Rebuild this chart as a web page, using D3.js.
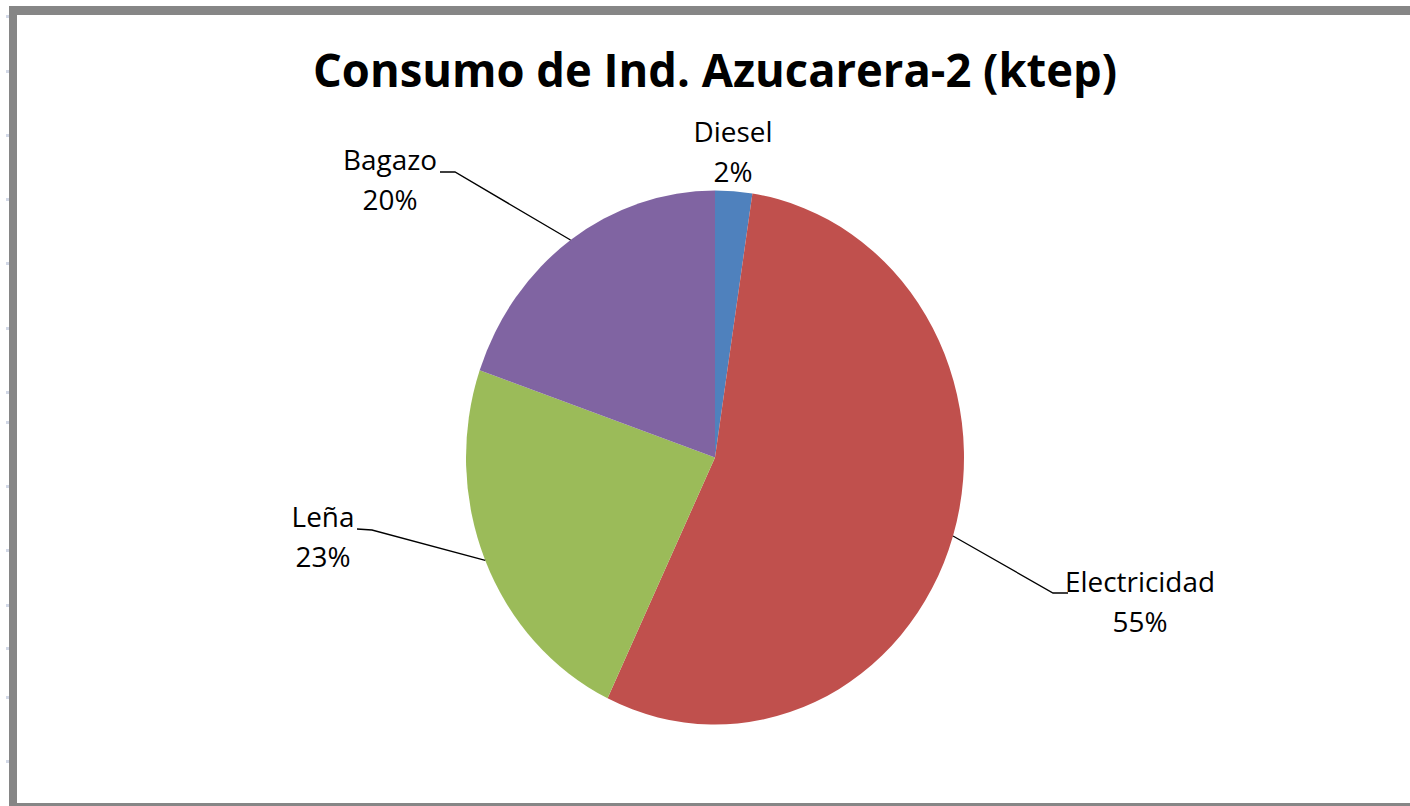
<!DOCTYPE html>
<html>
<head>
<meta charset="utf-8">
<script src="https://cdn.jsdelivr.net/npm/d3@7"></script>
<style>
  html, body { margin: 0; padding: 0; background: #fff; }
  svg { display: block; }
</style>
</head>
<body>
<script>
// ---- data ----
const title = "Consumo de Ind. Azucarera-2 (ktep)";
const categories = ["Diesel", "Electricidad", "Leña", "Bagazo"];
const values = [2.4, 54.7, 23.2, 19.7];
const colors = ["#4F81BD", "#C0504D", "#9BBB59", "#8064A2"];
const rowMarks = [16, 71, 135, 199, 263, 328, 392, 422, 486, 550, 605, 648, 697, 761];

// ---- layout (label placement) ----
const W = 1410, H = 806;
const cx = 715, cy = 457.5, rx = 249, ry = 267;
const labelLayout = {
  "Diesel":       { x: 733,  y: 142, leader: null },
  "Electricidad": { x: 1140, y: 592, leader: [[1053, 593], [1068, 593]] },
  "Leña":         { x: 323,  y: 527, leader: [[372, 530], [357, 529]] },
  "Bagazo":       { x: 390,  y: 170, leader: [[455, 172], [440, 172]] }
};

const svg = d3.select("body").append("svg").attr("width", W).attr("height", H);
svg.append("rect").attr("width", W).attr("height", H).attr("fill", "#fff");

// spreadsheet row marks at left
svg.append("g").selectAll("rect").data(rowMarks).join("rect")
  .attr("x", 6).attr("y", d => d - 1).attr("width", 3).attr("height", 3)
  .attr("fill", "#d2d8e6");

// chart frame
const frame = svg.append("g").attr("fill", "#868686");
frame.append("rect").attr("x", 9).attr("y", 6).attr("width", 8).attr("height", H - 6);
frame.append("rect").attr("x", 9).attr("y", 6).attr("width", W - 9).attr("height", 9);
frame.append("rect").attr("x", 9).attr("y", 803).attr("width", W - 9).attr("height", 3);

// title
const t = svg.append("text")
  .attr("x", cx).attr("y", 87)
  .attr("text-anchor", "middle")
  .attr("font-family", "'Open Sans', 'Noto Sans', sans-serif")
  .attr("font-weight", "bold")
  .attr("font-size", 47)
  .attr("fill", "#000")
  .text(title);
t.attr("textLength", 804).attr("lengthAdjust", "spacingAndGlyphs");

// pie
const total = d3.sum(values);
const pie = d3.pie().sort(null).value(d => d.v)
  .startAngle(0).endAngle(2 * Math.PI);
const rows = categories.map((c, i) => ({ c, v: values[i], col: colors[i] }));
const arcs = pie(rows);
const arc = d3.arc().innerRadius(0).outerRadius(rx);

const g = svg.append("g")
  .attr("transform", `translate(${cx},${cy}) scale(1,${ry / rx})`);
g.selectAll("path").data(arcs).join("path")
  .attr("d", arc)
  .attr("fill", d => d.data.col);

// edge point (in page coordinates) at slice mid angle
function edgePoint(d) {
  const a = (d.startAngle + d.endAngle) / 2;
  return [cx + rx * Math.sin(a), cy - ry * Math.cos(a)];
}

// leader lines
const line = d3.line();
svg.append("g").selectAll("path")
  .data(arcs.filter(d => labelLayout[d.data.c].leader))
  .join("path")
  .attr("d", d => line([edgePoint(d), ...labelLayout[d.data.c].leader]))
  .attr("fill", "none").attr("stroke", "#000").attr("stroke-width", 1.3);

// labels
const fontFam = "'Open Sans', 'Noto Sans', sans-serif";
// size labels so "Electricidad" spans ~150px
const probe = svg.append("text").attr("font-family", fontFam).attr("font-size", 100).text("Electricidad");
const labelSize = 100 * 150 / probe.node().getComputedTextLength();
probe.remove();

const lab = svg.append("g").attr("font-family", fontFam).attr("font-size", labelSize)
  .attr("fill", "#000").attr("text-anchor", "middle");
arcs.forEach(d => {
  const L = labelLayout[d.data.c];
  lab.append("text").attr("x", L.x).attr("y", L.y).text(d.data.c);
  lab.append("text").attr("x", L.x).attr("y", L.y + 40)
    .text(Math.round(d.data.v / total * 100) + "%");
});
</script>
</body>
</html>
